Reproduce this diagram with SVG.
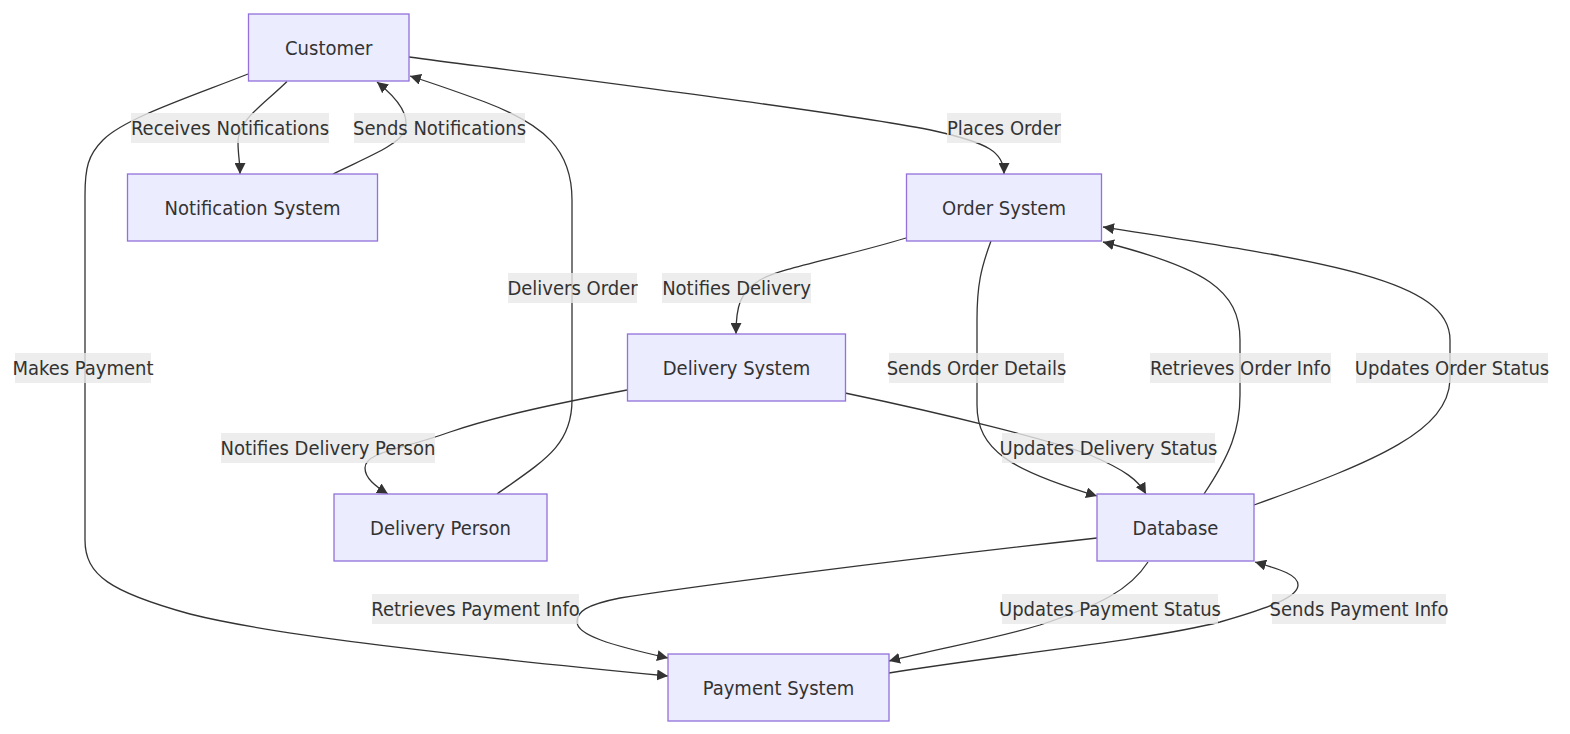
<svg xmlns="http://www.w3.org/2000/svg" width="1570" height="734" viewBox="0 0 1570 734">
<style>
.node rect{fill:#ECECFF;stroke:#9370DB;stroke-width:1.3px}
text{font-family:"DejaVu Sans Condensed","DejaVu Sans",sans-serif;font-size:20px;fill:#333;text-anchor:middle;dominant-baseline:central}
.edge{fill:none;stroke:#333;stroke-width:1.3px;marker-end:url(#arrow)}
.lbl rect{fill:#e8e8e8;fill-opacity:0.8}
</style>
<defs>
<marker id="arrow" viewBox="0 0 10 10" refX="10" refY="5" markerUnits="userSpaceOnUse" markerWidth="11" markerHeight="11" orient="auto">
<path d="M0,0 L10,5 L0,10 z" fill="#333"/>
</marker>
</defs>
<rect width="1570" height="734" fill="#fff"/>
<g id="connectors">
<path class="edge" d="M287,81.5 C262,106 238,120 238,142 C238,155 240,162 240,174"/>
<path class="edge" d="M333,174 C365,158 400,145 405,130 C410,115 397,98 377,82"/>
<path class="edge" d="M248,74 C190,97 125,118 103,140 C88,155 85,168 85,195 L85,540 C85,575 110,592 190,614 C265,633 420,652 668,676"/>
<path class="edge" d="M409,57 C600,82 860,115 935,131 C988,143 1004,152 1004,174"/>
<path class="edge" d="M906,238 C840,258 780,268 760,280 C740,292 736,306 736,334"/>
<path class="edge" d="M497,494 C545,460 572,445 572,400 L572,200 C572,150 545,125 485,102 C455,91 432,83 410,76"/>
<path class="edge" d="M991,241 C981,268 977,285 977,320 L977,405 C977,450 1010,470 1097,496"/>
<path class="edge" d="M1204,494 C1230,455 1240,430 1240,395 L1240,340 C1240,290 1205,268 1103,242"/>
<path class="edge" d="M1254,505 C1380,460 1448,430 1450,380 L1450,340 C1450,280 1330,262 1103,227"/>
<path class="edge" d="M627,390 C560,403 500,415 450,432 C400,450 365,452 365,468 C365,478 375,486 388,494"/>
<path class="edge" d="M845,393 C950,415 1050,440 1090,455 C1125,470 1138,480 1146,494"/>
<path class="edge" d="M1097,538 C900,560 700,585 620,598 C585,605 577,612 577,622 C577,635 610,645 668,658"/>
<path class="edge" d="M1148,562 C1130,590 1100,605 1040,625 C990,640 940,648 889,661"/>
<path class="edge" d="M889,673 C1000,655 1150,640 1220,622 C1280,605 1298,595 1298,585 C1298,575 1282,570 1255,562"/>
</g>
<g id="edge-labels">
<g class="lbl"><rect x="131" y="113" width="198" height="30"/><text x="230" y="128">Receives Notifications</text></g>
<g class="lbl"><rect x="354" y="113" width="171" height="30"/><text x="439.5" y="128">Sends Notifications</text></g>
<g class="lbl"><rect x="15" y="353" width="136" height="30"/><text x="83" y="368">Makes Payment</text></g>
<g class="lbl"><rect x="947" y="113" width="114" height="30"/><text x="1004" y="128">Places Order</text></g>
<g class="lbl"><rect x="662" y="273" width="149" height="30"/><text x="736.5" y="288">Notifies Delivery</text></g>
<g class="lbl"><rect x="508" y="273" width="129" height="30"/><text x="572.5" y="288">Delivers Order</text></g>
<g class="lbl"><rect x="889" y="353" width="175" height="30"/><text x="976.5" y="368">Sends Order Details</text></g>
<g class="lbl"><rect x="1150" y="353" width="181" height="30"/><text x="1240.5" y="368">Retrieves Order Info</text></g>
<g class="lbl"><rect x="1356" y="353" width="192" height="30"/><text x="1452" y="368">Updates Order Status</text></g>
<g class="lbl"><rect x="221" y="433" width="214" height="30"/><text x="328" y="448">Notifies Delivery Person</text></g>
<g class="lbl"><rect x="1002" y="433" width="213" height="30"/><text x="1108.5" y="448">Updates Delivery Status</text></g>
<g class="lbl"><rect x="372" y="594" width="207" height="30"/><text x="475.5" y="609">Retrieves Payment Info</text></g>
<g class="lbl"><rect x="1002" y="594" width="216" height="30"/><text x="1110" y="609">Updates Payment Status</text></g>
<g class="lbl"><rect x="1272" y="594" width="174" height="30"/><text x="1359" y="609">Sends Payment Info</text></g>
</g>
<g id="customer" class="node"><rect x="248.5" y="14" width="160.5" height="67"/><text x="328.75" y="47.5">Customer</text></g>
<g id="notification-system" class="node"><rect x="127.5" y="174" width="250" height="67"/><text x="252.5" y="207.5">Notification System</text></g>
<g id="order-system" class="node"><rect x="906.5" y="174" width="195" height="67"/><text x="1004" y="207.5">Order System</text></g>
<g id="delivery-system" class="node"><rect x="627.5" y="334" width="218" height="67"/><text x="736.5" y="367.5">Delivery System</text></g>
<g id="delivery-person" class="node"><rect x="334" y="494" width="213" height="67"/><text x="440.5" y="527.5">Delivery Person</text></g>
<g id="database" class="node"><rect x="1097" y="494" width="157" height="67"/><text x="1175.5" y="527.5">Database</text></g>
<g id="payment-system" class="node"><rect x="668" y="654" width="221" height="67"/><text x="778.5" y="687.5">Payment System</text></g>
</svg>
